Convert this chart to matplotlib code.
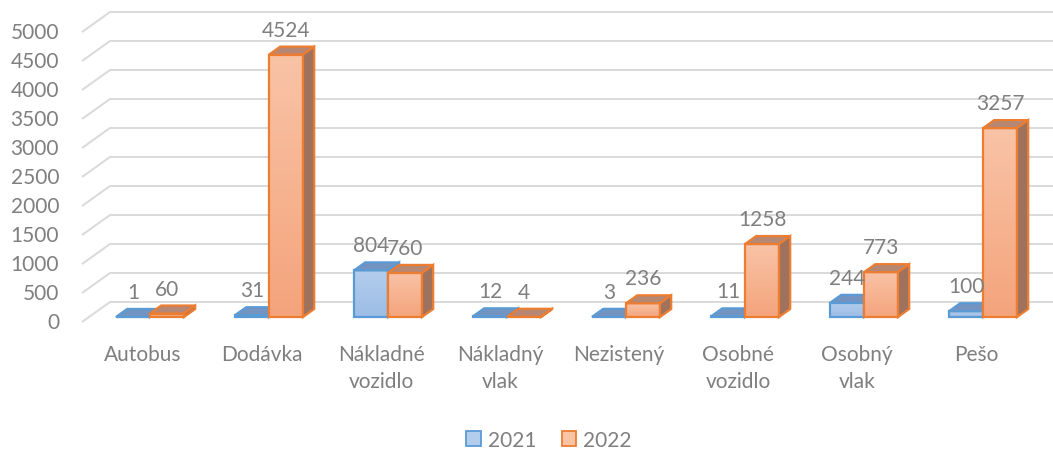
import matplotlib
matplotlib.use("Agg")
import matplotlib.pyplot as plt
from matplotlib.patches import Polygon, Patch
from matplotlib.colors import LinearSegmentedColormap
import numpy as np

# ---------------- data ----------------
categories = ["Autobus", "Dodávka", "Nákladné\nvozidlo", "Nákladný\nvlak",
              "Nezistený", "Osobné\nvozidlo", "Osobný\nvlak", "Pešo"]
series_names = ["2021", "2022"]
values_2021 = [1, 31, 804, 12, 3, 11, 244, 100]
values_2022 = [60, 4524, 760, 4, 236, 1258, 773, 3257]
y_ticks = [0, 500, 1000, 1500, 2000, 2500, 3000, 3500, 4000, 4500, 5000]

# ---------------- style ----------------
TEXT = "#7f7f7f"
GRID = "#d9d9d9"
FONT = "Lato"
FS = 15
styles = [
    dict(edge="#5b9bd5", top_grad="#b3cdec", bot_grad="#9dbde6", topface="#7393c0", side="#5f7fa8"),
    dict(edge="#ed7d31", top_grad="#f9c3a6", bot_grad="#f4a47c", topface="#b68772", side="#9e725d"),
]

W, H = 1053, 452
fig = plt.figure(figsize=(W / 100, H / 100), dpi=100)
ax = fig.add_axes([0, 0, 1, 1])
ax.axis("off")

# geometry (pixel based scale -> data units)
X0, XS = 143.0, 119.0     # px of first category, px per category
Y0, YS = 323.0, 0.058     # px of value 0 (front plane), px per unit
DX, DY = 28 / XS, 20 / YS  # floor depth in data units
x_wall = (82 - X0) / XS
x_right = (W - X0) / XS

# walls / gridlines
for v in y_ticks:
    ax.plot([x_wall, x_wall + DX, x_right], [v, v + DY, v + DY],
            color=GRID, lw=1.4, zorder=1, solid_capstyle="butt")
    ax.text(x_wall - 23 / XS, v, str(v), ha="right", va="center",
            fontsize=FS, color=TEXT, family=FONT)

# bars
BW = 34 / XS
f0, f1 = 0.25, 0.65
d = f1 - f0
z = 5
all_series = [values_2021, values_2022]
grad = np.linspace(0, 1, 64).reshape(-1, 1)
for i in range(len(categories)):
    for s, vals in enumerate(all_series):
        st = styles[s]
        v = vals[i]
        xl = i + f0 * DX - BW + s * BW
        yb = f0 * DY
        yt = yb + v
        # front face
        front = Polygon([(xl, yb), (xl + BW, yb), (xl + BW, yt), (xl, yt)],
                        closed=True, facecolor=st["bot_grad"], edgecolor="none", zorder=z)
        ax.add_patch(front)
        if v * YS > 2:
            cmap = LinearSegmentedColormap.from_list("g", [st["bot_grad"], st["top_grad"]])
            im = ax.imshow(grad, extent=[xl, xl + BW, yb, yt], origin="lower",
                           cmap=cmap, aspect="auto", zorder=z + 0.1, interpolation="bilinear")
            im.set_clip_path(front)
        ax.add_patch(Polygon([(xl, yb), (xl + BW, yb), (xl + BW, yt), (xl, yt)],
                             closed=True, facecolor="none", edgecolor=st["edge"],
                             lw=1.6, zorder=z + 0.2, joinstyle="miter"))
        # top face
        ax.add_patch(Polygon([(xl, yt), (xl + BW, yt), (xl + BW + d * DX, yt + d * DY),
                              (xl + d * DX, yt + d * DY)], closed=True,
                             facecolor=st["topface"], edgecolor=st["edge"], lw=1.6,
                             zorder=z + 0.3, joinstyle="miter"))
        # side face
        ax.add_patch(Polygon([(xl + BW, yb), (xl + BW + d * DX, yb + d * DY),
                              (xl + BW + d * DX, yt + d * DY), (xl + BW, yt)], closed=True,
                             facecolor=st["side"], edgecolor=st["edge"], lw=1.6,
                             zorder=z + 0.4, joinstyle="miter"))
        # value label
        ax.text(xl + BW / 2, yt + 25 / YS, str(v), ha="center", va="center",
                fontsize=FS, color=TEXT, family=FONT, zorder=50)
        z += 1

# category labels
for i, c in enumerate(categories):
    ax.text(i, (Y0 - 345) / YS, c, ha="center", va="top", fontsize=FS,
            color=TEXT, family=FONT, linespacing=1.45)

# legend
handles = [Patch(facecolor=styles[k]["top_grad"], edgecolor=styles[k]["edge"], lw=1.3)
           for k in range(2)]
leg = fig.legend(handles, series_names, loc="center", bbox_to_anchor=(549 / W, 1 - 441 / H),
                 ncol=2, frameon=False, handlelength=0.7, handleheight=0.7,
                 handletextpad=0.35, columnspacing=1.2,
                 prop={"family": FONT, "size": FS})
for t in leg.get_texts():
    t.set_color(TEXT)

ax.set_xlim(-X0 / XS, (W - X0) / XS)
ax.set_ylim((Y0 - H) / YS, Y0 / YS)
fig.savefig("out.png", dpi=100)
